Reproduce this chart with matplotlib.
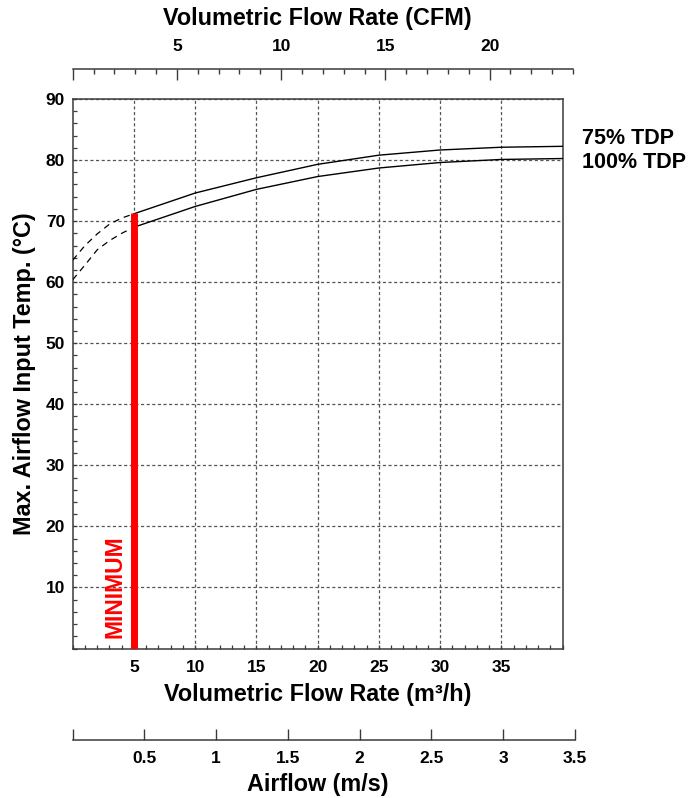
import matplotlib
matplotlib.use("Agg")
import matplotlib.pyplot as plt
from matplotlib.ticker import MultipleLocator, FixedLocator

plt.rcParams['font.family'] = ['Liberation Sans', 'DejaVu Sans']
plt.rcParams['font.weight'] = 'bold'

# ---- data ----
flow_solid = [5, 10, 15, 20, 25, 30, 35, 40]           # m3/h
tdp75_solid = [71.2, 74.6, 77.1, 79.3, 80.8, 81.65, 82.1, 82.25]
tdp100_solid = [69.0, 72.4, 75.2, 77.3, 78.7, 79.6, 80.1, 80.25]

flow_dash = [0, 1, 2, 3, 4, 5]
tdp75_dash = [63.6, 66.0, 67.9, 69.5, 70.5, 71.2]
tdp100_dash = [60.4, 62.8, 65.3, 66.8, 68.0, 69.0]

min_flow = 5
min_top = 71.3

x_ticks = [5, 10, 15, 20, 25, 30, 35]
y_ticks = [10, 20, 30, 40, 50, 60, 70, 80, 90]
cfm_ticks = [5, 10, 15, 20]
ms_ticks = [0.5, 1, 1.5, 2, 2.5, 3, 3.5]
ms_labels = ['0.5', '1', '1.5', '2', '2.5', '3', '3.5']
series_labels = ['75% TDP', '100% TDP']

W, H = 693, 798
fig = plt.figure(figsize=(W / 100, H / 100), dpi=100)

def fx(px):
    return px / W

def fy(py):
    return 1 - py / H

spine_col = '#3a3a3a'
grid_col = '#555555'
tick_fs = 12.5

# ---- main axes ----
L, R, T, B = 72.7, 562.7, 99.0, 648.5
ax = fig.add_axes([fx(L), fy(B), fx(R - L), (B - T) / H])
ax.set_xlim(0, 40)
ax.set_ylim(0, 90)
for s in ax.spines.values():
    s.set_color(spine_col)
    s.set_linewidth(1.1)

ax.xaxis.set_major_locator(FixedLocator(x_ticks))
ax.xaxis.set_minor_locator(MultipleLocator(1))
ax.yaxis.set_major_locator(FixedLocator(y_ticks))
ax.yaxis.set_minor_locator(MultipleLocator(2))
ax.tick_params(axis='both', which='both', direction='in', color=spine_col,
               length=3.2, width=0.9, top=False, right=False)
ax.tick_params(axis='x', which='major', pad=8.0, labelsize=tick_fs)
ax.tick_params(axis='y', which='major', pad=5.5, labelsize=tick_fs)
for lab in ax.get_xticklabels() + ax.get_yticklabels():
    lab.set_fontweight('bold')

ax.grid(True, which='major', color=grid_col, linestyle=(0, (2.5, 2.0)), linewidth=0.9)
ax.set_axisbelow(True)

ax.plot(flow_solid, tdp75_solid, color='black', lw=1.0, zorder=3)
ax.plot(flow_solid, tdp100_solid, color='black', lw=1.0, zorder=3)
ax.plot(flow_dash, tdp75_dash, color='black', lw=0.9, linestyle=(0, (5, 4)), zorder=3)
ax.plot(flow_dash, tdp100_dash, color='black', lw=0.9, linestyle=(0, (5, 4)), zorder=3)

ax.vlines(min_flow, 0, min_top, color='#ff0000', linewidth=5.0, zorder=4)
ax.text(3.45, 1.7, 'MINIMUM', rotation=90, ha='center', va='bottom',
        color='#ff0000', fontsize=16.5, fontweight='heavy', zorder=5)

# ---- top CFM axis ----
top_line = 69.0
axt = fig.add_axes([fx(L), fy(top_line + 11), fx(573.0 - L), 11 / H])
axt.set_xlim(0, 24)
axt.set_ylim(0, 1)
axt.patch.set_visible(False)
for k, s in axt.spines.items():
    s.set_visible(k == 'top')
axt.spines['top'].set_color(spine_col)
axt.spines['top'].set_linewidth(1.1)
axt.set_yticks([])
axt.xaxis.tick_top()
axt.xaxis.set_major_locator(FixedLocator([0] + cfm_ticks))
axt.xaxis.set_minor_locator(MultipleLocator(1))
axt.set_xticklabels([''] + [str(v) for v in cfm_ticks])
axt.tick_params(axis='x', which='major', direction='in', length=8, width=1.0,
                color=spine_col, pad=10.5, labelsize=tick_fs)
axt.tick_params(axis='x', which='minor', direction='in', length=3.8, width=1.0,
                color=spine_col)
for lab in axt.get_xticklabels():
    lab.set_fontweight('bold')

# ---- bottom m/s axis ----
bot_line = 740.0
axb = fig.add_axes([fx(L), fy(bot_line), fx(575.0 - L), 11 / H])
axb.set_xlim(0, 3.5)
axb.set_ylim(0, 1)
axb.patch.set_visible(False)
for k, s in axb.spines.items():
    s.set_visible(k == 'bottom')
axb.spines['bottom'].set_color(spine_col)
axb.spines['bottom'].set_linewidth(1.1)
axb.set_yticks([])
axb.xaxis.set_major_locator(FixedLocator([0] + ms_ticks))
axb.set_xticklabels([''] + ms_labels)
axb.tick_params(axis='x', which='major', direction='in', length=8, width=1.0,
                color=spine_col, pad=8.0, labelsize=tick_fs)
for lab in axb.get_xticklabels():
    lab.set_fontweight('bold')

# ---- titles ----
cx = fx((L + R) / 2)
fig.text(cx, fy(18), 'Volumetric Flow Rate (CFM)', ha='center', va='center',
         fontsize=16.8, fontweight='bold')
fig.text(cx, fy(694), 'Volumetric Flow Rate (m³/h)', ha='center', va='center',
         fontsize=16.8, fontweight='bold')
fig.text(cx, fy(785), 'Airflow (m/s)', ha='center', va='center',
         fontsize=16.8, fontweight='bold')
fig.text(fx(25), fy((T + B) / 2), 'Max. Airflow Input Temp. (°C)', rotation=90,
         ha='center', va='center', fontsize=16.8, fontweight='bold')

fig.text(fx(581.7), fy(138), series_labels[0], ha='left', va='center',
         fontsize=15.5, fontweight='bold')
fig.text(fx(581.7), fy(162), series_labels[1], ha='left', va='center',
         fontsize=15.5, fontweight='bold')

fig.savefig('out.png', dpi=100)
